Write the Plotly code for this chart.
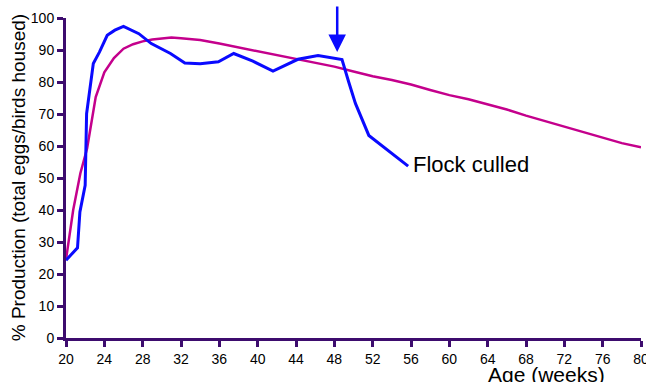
import plotly.graph_objects as go

# Standard (breed target) curve
std_age = [20, 20.75, 21.5, 22.2, 23.1, 24, 25, 26, 27, 28, 29, 30, 31, 32, 34, 36, 38, 40, 42, 44, 46, 48,
           50, 52, 54, 56, 58, 60, 62, 64, 66, 68, 70, 72, 74, 76, 78, 80]
std_prod = [24.5, 40, 51.5, 59.2, 75.3, 83, 87.5, 90.4, 91.8, 92.7, 93.3, 93.7, 93.9, 93.7, 93.1, 92, 90.8,
            89.8, 88.5, 87.2, 86, 84.8, 83.3, 81.8, 80.6, 79.2, 77.5, 75.9, 74.6, 73, 71.4, 69.5, 67.8,
            66.2, 64.5, 62.8, 60.9, 59.6]

# Actual flock
flock_age = [20, 21.2, 21.45, 22.0, 22.15, 22.85, 23.5, 24.3, 25.1, 26, 27.6, 28.9, 30.9, 32.4, 34, 35.9,
             37.5, 39.5, 41.6, 44.2, 46.3, 48.8, 49.5, 50.2, 51.6, 55.7]
flock_prod = [24.3, 28.2, 39.4, 47.7, 70.1, 85.8, 89.4, 94.6, 96.2, 97.4, 95.1, 92, 88.9, 85.9, 85.7, 86.3,
              88.9, 86.5, 83.4, 87.1, 88.3, 87, 80, 73.3, 63.3, 53.7]

x_ticks = list(range(20, 81, 4))
y_ticks = list(range(0, 101, 10))

axis_col = "#3d0c6e"
font_fam = "Liberation Sans, Arial, sans-serif"

fig = go.Figure()
fig.add_trace(go.Scatter(x=std_age, y=std_prod, mode="lines",
                         line=dict(color="#c4008c", width=2.5), showlegend=False))
fig.add_trace(go.Scatter(x=flock_age, y=flock_prod, mode="lines",
                         line=dict(color="#0a0aff", width=3), showlegend=False))

fig.add_annotation(x=48.3, y=89.4, xref="x", yref="y", ax=0, ay=-47, axref="pixel", ayref="pixel",
                   showarrow=True, arrowhead=2, arrowsize=1.4, arrowwidth=2.5, arrowcolor="#0a0aff", text="")
fig.add_annotation(x=56.0, y=54.3, xref="x", yref="y", text="Flock culled", showarrow=False,
                   xanchor="left", yanchor="middle", font=dict(size=22, color="black", family=font_fam))
fig.add_annotation(x=0.835, y=-0.113, xref="paper", yref="paper", text="Age (weeks)", showarrow=False,
                   xanchor="center", yanchor="middle", font=dict(size=21, color="black", family=font_fam))
fig.add_annotation(x=-0.083, y=0.50, xref="paper", yref="paper", text="% Production (total eggs/birds housed)",
                   showarrow=False, textangle=-90, xanchor="center", yanchor="middle",
                   font=dict(size=19, color="black", family=font_fam))

fig.update_layout(
    width=646, height=382,
    margin=dict(l=66, r=5, t=18, b=44),
    plot_bgcolor="white", paper_bgcolor="white",
    font=dict(family=font_fam, color="black", size=14),
    xaxis=dict(range=[20, 80], tickvals=x_ticks, ticktext=[str(v) for v in x_ticks],
               showgrid=False, zeroline=False, showline=True, linecolor=axis_col, linewidth=3,
               ticks="outside", ticklen=6, tickwidth=3, tickcolor=axis_col, automargin=False,
               ticklabeloverflow="allow", tickfont=dict(size=14)),
    yaxis=dict(range=[0, 100], tickvals=y_ticks, ticktext=[str(v) for v in y_ticks],
               showgrid=False, zeroline=False, showline=True, linecolor=axis_col, linewidth=3,
               ticks="outside", ticklen=6, tickwidth=3, tickcolor=axis_col, automargin=False,
               ticklabeloverflow="allow", tickfont=dict(size=14)),
)

fig.write_html("out.html", config={"displayModeBar": False},
               post_script="document.body.style.margin='0px';document.body.style.overflow='hidden';")
